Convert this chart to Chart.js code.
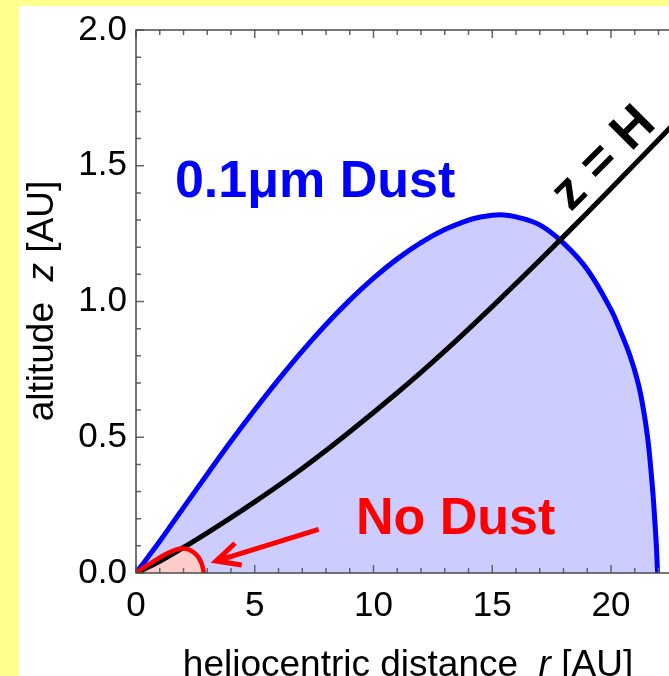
<!DOCTYPE html>
<html>
<head>
<meta charset="utf-8">
<title>Dust-free region vs. altitude</title>
<script src="https://cdn.jsdelivr.net/npm/chart.js@4.4.1/dist/chart.umd.min.js"></script>
<style>
  html, body { margin: 0; padding: 0; width: 669px; height: 676px; overflow: hidden; background: #ffff8c; }
  #panel { position: absolute; left: 19px; top: 6px; right: 0; bottom: 0; background: #ffffff; }
  #wrap { position: absolute; left: 0; top: 0; width: 706px; height: 676px; }
</style>
</head>
<body>
<div id="panel"></div>
<div id="wrap"><canvas id="chart" width="706" height="676"></canvas></div>
<script>
// Boundary of the 0.1 µm dust region: heliocentric distance r [AU] vs altitude z [AU]
const dustR = [0, 0.5, 1, 1.5, 2, 3, 4, 5, 6, 7, 8, 9, 10, 11, 12, 13, 14, 14.5, 15, 15.5, 16, 17, 18, 19, 20, 20.35, 20.8, 21.14, 21.37, 21.54, 21.66, 21.76, 21.84, 21.91, 21.96];
const dustZ = [0, 0.058, 0.117, 0.179, 0.241, 0.364, 0.485, 0.601, 0.712, 0.817, 0.915, 1.005, 1.086, 1.157, 1.217, 1.265, 1.300, 1.311, 1.318, 1.319, 1.312, 1.282, 1.215, 1.118, 0.97, 0.9, 0.8, 0.7, 0.6, 0.5, 0.4, 0.3, 0.2, 0.1, 0];

// Boundary of the dust-free zone close to the star
const noDustR = [0, 0.4, 0.8, 1.2, 1.6, 1.9, 2.2, 2.45, 2.65, 2.78, 2.86];
const noDustZ = [0, 0.024, 0.046, 0.067, 0.083, 0.09, 0.087, 0.075, 0.055, 0.03, 0];

// Disk scale height z = H(r)
const scaleHeightR = [0, 1, 2, 3, 4, 5, 6, 7, 8, 9, 10, 11, 12, 13, 14, 15, 16, 17, 18, 19, 20, 21, 22, 23, 24];
const scaleHeightZ = [0, 0.043, 0.094, 0.148, 0.204, 0.262, 0.322, 0.385, 0.451, 0.52, 0.591, 0.664, 0.739, 0.817, 0.898, 0.981, 1.066, 1.152, 1.239, 1.327, 1.416, 1.506, 1.596, 1.687, 1.778];

// Axis tick labels
const rTicks = [0, 5, 10, 15, 20];
const zTicks = [0, 0.5, 1.0, 1.5, 2.0];

const FONT = "'Liberation Sans', Arial, Helvetica, sans-serif";

const toPoints = (xs, ys) => xs.map((x, i) => ({ x: x, y: ys[i] }));

// Frame with inward major/minor ticks (left, top, bottom)
const framePlugin = {
  id: 'frame',
  afterDatasetsDraw(chart) {
    const { ctx, chartArea: a, scales: { x, y } } = chart;
    ctx.save();
    ctx.strokeStyle = '#666';
    ctx.lineWidth = 1.5;
    ctx.beginPath();
    for (let v = Math.ceil(x.min); v <= x.max; v += 1) {
      const px = x.getPixelForValue(v);
      const len = v % 5 === 0 ? 8 : 5;
      ctx.moveTo(px, a.bottom); ctx.lineTo(px, a.bottom - len);
      ctx.moveTo(px, a.top); ctx.lineTo(px, a.top + len);
    }
    for (let i = 0; i <= 20; i++) {
      const py = y.getPixelForValue(i / 10);
      const len = i % 5 === 0 ? 8 : 5;
      ctx.moveTo(a.left, py); ctx.lineTo(a.left + len, py);
    }
    ctx.stroke();
    ctx.strokeStyle = '#4a4a4a';
    ctx.beginPath();
    ctx.moveTo(a.right, a.top);
    ctx.lineTo(a.left, a.top);
    ctx.lineTo(a.left, a.bottom);
    ctx.lineTo(a.right, a.bottom);
    ctx.stroke();
    ctx.restore();
  }
};

// Text annotations and the arrow pointing at the dust-free zone
const annotationPlugin = {
  id: 'annotations',
  afterDatasetsDraw(chart) {
    const { ctx, scales: { x, y } } = chart;
    ctx.save();
    ctx.textBaseline = 'alphabetic';
    ctx.textAlign = 'left';
    ctx.font = 'bold 52px ' + FONT;

    ctx.fillStyle = '#0000ff';
    ctx.fillText('0.1\u03bcm Dust', x.getPixelForValue(1.64), y.getPixelForValue(1.385));

    ctx.fillStyle = '#ff0000';
    ctx.fillText('No Dust', x.getPixelForValue(9.26), y.getPixelForValue(0.145));

    // label along the scale-height curve
    ctx.fillStyle = '#000';
    ctx.save();
    ctx.translate(x.getPixelForValue(18.3), y.getPixelForValue(1.328));
    ctx.rotate(-Math.PI / 4);
    ctx.fillText('z = H', 0, 0);
    ctx.restore();

    // arrow
    const tx = x.getPixelForValue(7.69), ty = y.getPixelForValue(0.161);
    const hx = x.getPixelForValue(3.37), hy = y.getPixelForValue(0.044);
    const ang = Math.atan2(ty - hy, tx - hx);
    const head = 26, spread = 26 * Math.PI / 180;
    ctx.strokeStyle = '#ff0000';
    ctx.lineWidth = 5;
    ctx.lineJoin = 'miter';
    ctx.beginPath();
    ctx.moveTo(tx, ty);
    ctx.lineTo(hx, hy);
    ctx.moveTo(hx + head * Math.cos(ang - spread), hy + head * Math.sin(ang - spread));
    ctx.lineTo(hx, hy);
    ctx.lineTo(hx + head * Math.cos(ang + spread), hy + head * Math.sin(ang + spread));
    ctx.stroke();
    ctx.restore();
  }
};

// Axis titles with italic variable names
const titlePlugin = {
  id: 'axisTitles',
  afterDraw(chart) {
    const { ctx } = chart;
    const regular = '37px ' + FONT;
    const italic = 'italic 37px ' + FONT;
    const drawParts = (parts, cx, cy, rot) => {
      let total = 0;
      parts.forEach(p => { ctx.font = p[1]; total += ctx.measureText(p[0]).width; });
      ctx.save();
      ctx.translate(cx, cy);
      ctx.rotate(rot);
      ctx.fillStyle = '#000';
      ctx.textAlign = 'left';
      ctx.textBaseline = 'alphabetic';
      let pos = -total / 2;
      parts.forEach(p => {
        ctx.font = p[1];
        ctx.fillText(p[0], pos, 0);
        pos += ctx.measureText(p[0]).width;
      });
      ctx.restore();
    };
    drawParts([['heliocentric distance  ', regular], ['r', italic], [' [AU]', regular]], 408, 676, 0);
    drawParts([['altitude  ', regular], ['z', italic], [' [AU]', regular]], 53, 301, -Math.PI / 2);
  }
};

new Chart(document.getElementById('chart'), {
  type: 'line',
  data: {
    datasets: [
      {
        label: '0.1 \u03bcm dust',
        data: toPoints(dustR, dustZ),
        borderColor: '#0000ff',
        borderWidth: 5,
        backgroundColor: '#ccccff',
        fill: 'origin',
        tension: 0.4,
        order: 4
      },
      {
        label: 'no dust region',
        data: toPoints(noDustR, noDustZ),
        borderWidth: 0,
        borderColor: 'rgba(0,0,0,0)',
        backgroundColor: '#ffcccc',
        fill: 'origin',
        tension: 0.4,
        order: 3
      },
      {
        label: 'z = H',
        data: toPoints(scaleHeightR, scaleHeightZ),
        borderColor: '#000000',
        borderWidth: 5,
        fill: false,
        cubicInterpolationMode: 'monotone',
        order: 2
      },
      {
        label: 'no dust boundary',
        data: toPoints(noDustR, noDustZ),
        borderColor: '#ff0000',
        borderWidth: 4.5,
        fill: false,
        tension: 0.4,
        order: 1
      }
    ]
  },
  options: {
    responsive: false,
    animation: false,
    devicePixelRatio: 1,
    layout: { padding: { top: 27, left: 0, right: 0, bottom: 0 } },
    elements: { point: { radius: 0, hoverRadius: 0 }, line: { borderCapStyle: 'round', borderJoinStyle: 'round' } },
    plugins: { legend: { display: false }, tooltip: { enabled: false } },
    scales: {
      x: {
        type: 'linear',
        min: 0,
        max: 24,
        afterFit(s) { s.height = 103; },
        afterBuildTicks(s) { s.ticks = rTicks.map(v => ({ value: v })); },
        grid: { display: false, drawTicks: false },
        border: { display: false },
        ticks: {
          font: { family: FONT, size: 35 },
          color: '#000',
          padding: 12,
          maxRotation: 0,
          autoSkip: false,
          callback: v => String(v)
        }
      },
      y: {
        type: 'linear',
        min: 0,
        max: 2,
        afterFit(s) { s.width = 136; },
        afterBuildTicks(s) { s.ticks = zTicks.map(v => ({ value: v })); },
        grid: { display: false, drawTicks: false },
        border: { display: false },
        ticks: {
          font: { family: FONT, size: 35 },
          color: '#000',
          padding: 9,
          autoSkip: false,
          callback: v => Number(v).toFixed(1)
        }
      }
    }
  },
  plugins: [framePlugin, annotationPlugin, titlePlugin]
});
</script>
</body>
</html>
